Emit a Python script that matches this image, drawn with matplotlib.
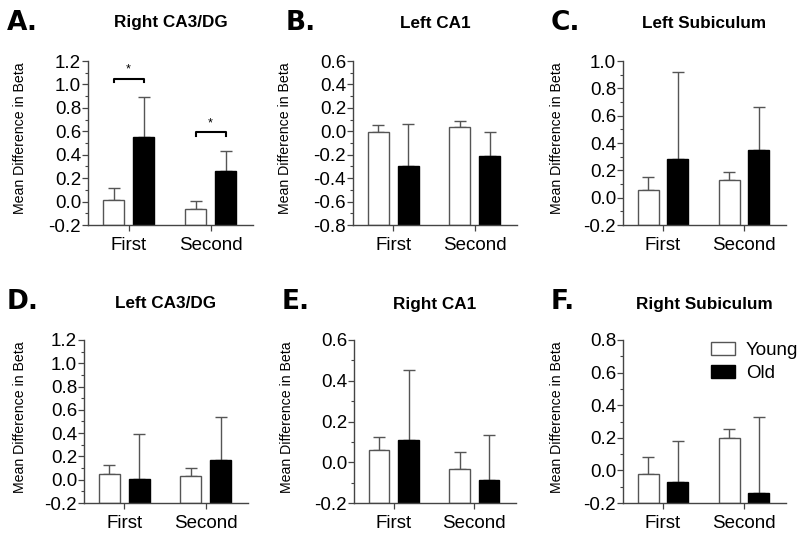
import matplotlib
matplotlib.use("Agg")
import matplotlib.pyplot as plt
from matplotlib.patches import Patch
from matplotlib.ticker import MultipleLocator, FormatStrFormatter

plt.rcParams['font.family'] = ['Liberation Sans', 'DejaVu Sans']

# ---------------- data ----------------
categories = ["First", "Second"]
series_names = ["Young", "Old"]

panel_letters = ["A.", "B.", "C.", "D.", "E.", "F."]
panel_titles = ["Right CA3/DG", "Left CA1", "Left Subiculum",
                "Left CA3/DG", "Right CA1", "Right Subiculum"]

young_mean = [[0.013, -0.060], [-0.006, 0.040], [0.057, 0.130],
              [0.051, 0.031], [0.059, -0.033], [-0.020, 0.199]]
young_err = [[0.107, 0.065], [0.056, 0.050], [0.093, 0.060],
             [0.077, 0.068], [0.063, 0.082], [0.100, 0.056]]
old_mean = [[0.548, 0.258], [-0.300, -0.210], [0.280, 0.350],
            [0.008, 0.168], [0.107, -0.085], [-0.074, -0.137]]
old_err = [[0.347, 0.172], [0.360, 0.200], [0.640, 0.310],
           [0.385, 0.368], [0.347, 0.217], [0.253, 0.467]]

y_limits = [(-0.2, 1.2), (-0.8, 0.6), (-0.2, 1.0),
            (-0.2, 1.2), (-0.2, 0.6), (-0.2, 0.8)]

# significance brackets in panel A (group index, bracket height)
sig_groups = [0, 1]
sig_heights = [1.05, 0.59]

# ---------------- layout ----------------
W, H = 800, 538
fig = plt.figure(figsize=(W / 100, H / 100), dpi=100)

# pixel boxes: left, right, top, bottom
boxes = [(88, 253, 61, 225), (353, 517, 61, 225), (623, 786, 61, 225),
         (84, 248, 340, 503), (354, 516, 340, 503), (623, 786, 340, 503)]
letter_pos = [(7, 23), (286, 23), (551, 23), (7, 302), (282, 302), (551, 302)]
title_y = [23, 23, 23, 304, 304, 304]
ylabel_right = [27, 292, 564, 27, 294, 564]

edge_gray = '#444444'
bw = 0.256
off = 0.183

for i in range(6):
    l, r, t, b = boxes[i]
    ax = fig.add_axes([l / W, 1 - b / H, (r - l) / W, (b - t) / H])
    ymin, ymax = y_limits[i]
    xs = [0, 1]
    xy = [x - off for x in xs]
    xo = [x + off for x in xs]
    ax.bar(xy, [v - ymin for v in young_mean[i]], bottom=ymin, width=bw,
           color='white', edgecolor='#555555', linewidth=1.0, zorder=2)
    ax.bar(xo, [v - ymin for v in old_mean[i]], bottom=ymin, width=bw,
           color='black', edgecolor='black', linewidth=1.0, zorder=2)
    ax.errorbar(xy, young_mean[i], yerr=[[0, 0], young_err[i]], fmt='none',
                ecolor='#555555', elinewidth=1.0, capsize=4, capthick=1.0, zorder=1)
    ax.errorbar(xo, old_mean[i], yerr=[[0, 0], old_err[i]], fmt='none',
                ecolor='#555555', elinewidth=1.0, capsize=4, capthick=1.0, zorder=1)

    ax.set_xlim(-0.494, 1.518)
    ax.set_ylim(ymin, ymax)
    ax.yaxis.set_major_locator(MultipleLocator(0.2))
    ax.yaxis.set_minor_locator(MultipleLocator(0.1))
    ax.yaxis.set_major_formatter(FormatStrFormatter('%.1f'))
    ax.set_xticks(xs)
    ax.set_xticklabels(categories)
    for s in ['top', 'right']:
        ax.spines[s].set_visible(False)
    for s in ['left', 'bottom']:
        ax.spines[s].set_color(edge_gray)
        ax.spines[s].set_linewidth(1.0)
    ax.tick_params(axis='y', which='major', length=4, width=0.9, color=edge_gray,
                   labelsize=13.5, pad=1)
    ax.tick_params(axis='y', which='minor', length=2, width=0.8, color=edge_gray)
    ax.tick_params(axis='x', which='major', length=4, width=0.9, color=edge_gray,
                   labelsize=13.5, pad=5)
    ax.set_ylabel("Mean Difference in Beta", fontsize=10.2)
    ax.yaxis.set_label_coords((ylabel_right[i] - l) / (r - l), 0.527)

    fig.text((l + r) / 2 / W, 1 - title_y[i] / H, panel_titles[i],
             ha='center', va='center', fontsize=12.3, fontweight='bold')
    fig.text(letter_pos[i][0] / W, 1 - letter_pos[i][1] / H, panel_letters[i],
             ha='left', va='center', fontsize=19, fontweight='bold',
             family='DejaVu Sans')

    if i == 0:
        for g, h in zip(sig_groups, sig_heights):
            x0, x1 = xs[g] - off, xs[g] + off
            ax.plot([x0, x0, x1, x1], [h - 0.03, h, h, h - 0.03],
                    color='black', linewidth=1.5, zorder=3)
            ax.text(xs[g], h + 0.025, "*", ha='center', va='bottom', fontsize=9)

    if i == 5:
        handles = [Patch(facecolor='white', edgecolor='#555555', linewidth=1.0),
                   Patch(facecolor='black', edgecolor='black', linewidth=1.0)]
        ax.legend(handles, series_names, loc='upper left',
                  bbox_to_anchor=(0.54, 0.99), frameon=False, fontsize=13.5,
                  handlelength=1.3, handleheight=0.75, handletextpad=0.55,
                  labelspacing=0.3, borderpad=0, borderaxespad=0)

fig.savefig("out.png", dpi=100)
